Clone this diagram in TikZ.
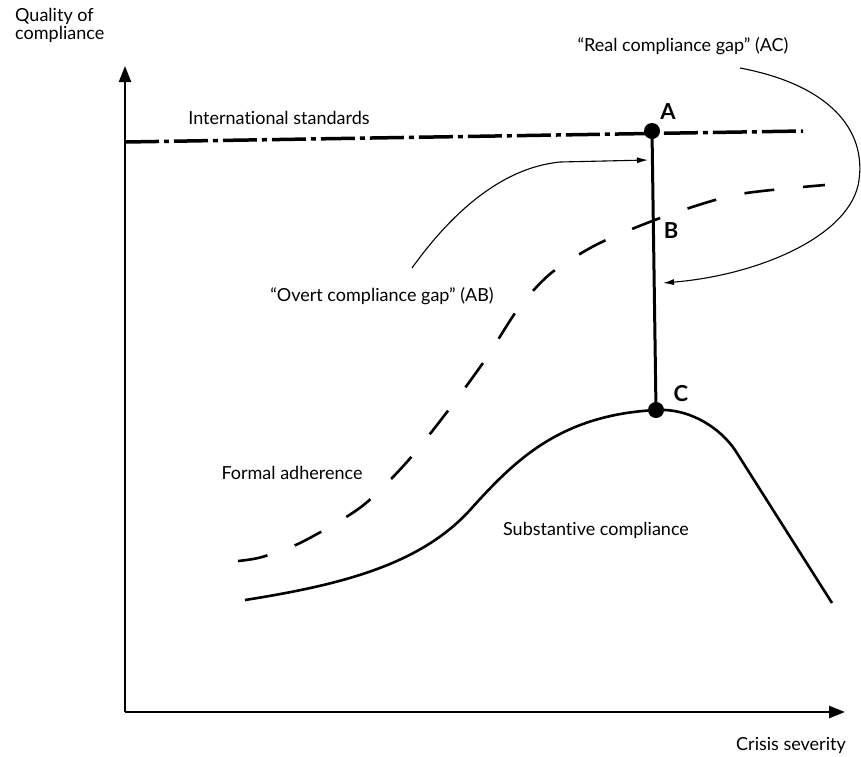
\documentclass[tikz,border=0pt]{standalone}
\usepackage{fontspec}
\setmainfont{Lato}[Ligatures=CommonOff]
\usetikzlibrary{arrows.meta}
\begin{document}
\begin{tikzpicture}[x=1pt,y=-1pt,
  lbl/.style={font=\fontsize{18}{18}\selectfont, inner sep=0pt},
  ptlbl/.style={font=\fontsize{22}{22}\selectfont\bfseries, inner sep=0pt},
  dot/.style={circle, fill, inner sep=0pt, minimum size=16pt},
  axis/.style={line width=2.4pt, -{Triangle[length=16pt,width=12pt]}},
  pointer/.style={line width=1.1pt, -{Latex[length=11pt,width=6pt]}},
  curve/.style={line width=2.6pt}]
  \useasboundingbox (0,0) rectangle (861,756);
  % axes
  \coordinate (O) at (125,712);
  \coordinate (ytip) at (125,66);
  \coordinate (xtip) at (845,712);
  \draw[axis] (O) -- (ytip);
  \draw[axis] (O) -- (xtip);
  \node[lbl, anchor=north west, align=left] (ylab) at (15,8) {Quality of\\compliance};
  \node[lbl] (xlab) at (791,745) {Crisis severity};
  % international standards
  \coordinate (s0) at (125,142);
  \coordinate (s1) at (803,131);
  \draw[line width=3.5pt, dash pattern=on 34pt off 5pt on 5pt off 5pt] (s0) -- (s1);
  \node[lbl] (std) at (279,118) {International standards};
  % formal adherence
  \draw[curve, dash pattern=on 30pt off 29pt] plot[smooth] coordinates {(238,561) (262,557) (302,542) (361,507) (406,463) (447,412) (485,360) (518,309) (550,274) (592,247) (632,229) (680,211) (740,194) (825,185)};
  \node[lbl] (formal) at (292,473) {Formal adherence};
  % substantive compliance
  \coordinate (s2) at (470,510);
  \coordinate (s3) at (735,450);
  \draw[curve] (245,600) .. controls (340,585) and (420,565) .. (s2)
    .. controls (515,460) and (560,415) .. (656,410)
    .. controls (690,408) and (720,428) .. (s3) -- (832,603);
  \node[lbl] (subst) at (596,530) {Substantive compliance};
  % gap A-B-C
  \node[dot] (A) at (652,131) {};
  \node[dot] (C) at (656,410) {};
  \draw[line width=3pt] (A.center) -- (C.center);
  \node[ptlbl] (Alab) at (668,112) {A};
  \node[ptlbl] (Blab) at (671,231) {B};
  \node[ptlbl] (Clab) at (681,394) {C};
  % labels of the gaps
  \node[lbl] (overt) at (382,296) {``Overt compliance gap'' (AB)};
  \node[lbl] (real) at (683,46) {``Real compliance gap'' (AC)};
  \coordinate (overt0) at (412,268);
  \coordinate (overt1) at (560,162);
  \coordinate (overt2) at (648,160);
  \draw[pointer] (overt0) .. controls (450,215) and (500,168) .. (overt1) -- (overt2);
  \coordinate (real0) at (740,68);
  \coordinate (real1) at (859,180);
  \coordinate (real2) at (663,283);
  \draw[pointer] (real0) .. controls (830,85) and (866,130) .. (real1) .. controls (852,235) and (760,275) .. (real2);
\end{tikzpicture}
\end{document}
